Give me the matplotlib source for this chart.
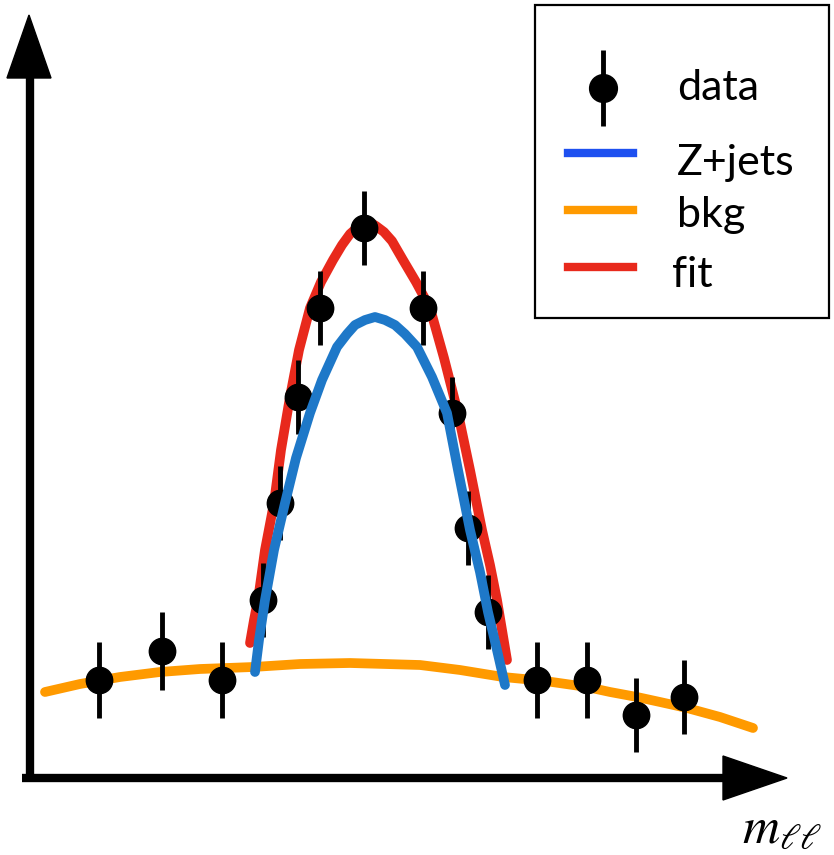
import matplotlib.pyplot as plt
from matplotlib.patches import Rectangle

# everything is in pixel units of the 834x855 sketch (y grows downwards)
data_x = [99, 162, 222, 263, 280, 298, 320, 364, 423, 452, 468, 488, 537, 587, 636, 684]
data_y = [680, 651, 680, 600, 503, 397, 308, 228, 308, 413, 528, 612, 680, 680, 715, 697]
data_err = [38, 39, 38, 37, 37, 37, 37, 37, 37, 36, 37, 37, 38, 38, 37, 37]

bkg_x = [45, 80, 120, 160, 200, 253, 300, 350, 420, 460, 503, 545, 587, 610, 637, 660, 687, 720, 753]
bkg_y = [692, 684, 677, 672, 669, 667, 664, 663, 665, 670, 677, 681, 687, 692, 697, 702, 708, 717, 728]

zjets_x = [255, 259, 265, 274, 285, 296, 310, 322, 337, 347, 355, 365, 375,
           385, 395, 405, 417, 432, 447, 458, 470, 480, 488, 497, 505]
zjets_y = [672, 640, 600, 550, 503, 458, 413, 380, 347, 334, 325, 320, 317,
           320, 325, 334, 347, 377, 413, 470, 530, 572, 612, 650, 685]

fit_x = [250, 254, 258, 265, 274, 281, 290, 299, 310, 321, 333, 342, 350, 358, 363, 367,
         371, 376, 384, 392, 403, 416, 430, 444, 458, 470, 482, 490, 497, 502, 507]
fit_y = [643, 620, 600, 550, 503, 450, 397, 350, 308, 282, 260, 245, 234, 227, 223, 222,
         223, 226, 232, 241, 260, 282, 308, 358, 413, 470, 530, 565, 600, 630, 660]

labels = ["data", "Z+jets", "bkg", "fit"]

RED = "#e8291c"
BLUE = "#1e78c8"
BLUE_LEG = "#1e50f0"
ORANGE = "#ff9a00"

fig = plt.figure(figsize=(8.34, 8.55), dpi=100)
ax = fig.add_axes([0, 0, 1, 1])
ax.set_xlim(0, 834)
ax.set_ylim(855, 0)
ax.axis("off")

# hand drawn axes with arrow heads
ax.plot([30, 30], [782, 70], color="k", lw=6, solid_capstyle="butt")
ax.fill([7, 51, 29], [78, 78, 15], color="k")
ax.plot([22, 728], [778, 778], color="k", lw=6, solid_capstyle="butt")
ax.fill([723, 723, 787], [756, 800, 778], color="k")

ax.plot(bkg_x, bkg_y, color=ORANGE, lw=7, solid_capstyle="round", zorder=1)
ax.plot(fit_x, fit_y, color=RED, lw=7, solid_capstyle="round", zorder=2)
ax.errorbar(data_x, data_y, yerr=data_err, fmt="o", ms=19, color="k",
            elinewidth=3.5, capsize=0, zorder=3)
ax.plot(zjets_x, zjets_y, color=BLUE, lw=7, solid_capstyle="round", zorder=4)

ax.text(742, 843, r"$m_{\ell\ell}$", fontsize=37, math_fontfamily="stix",
        ha="left", va="baseline")

# legend box, drawn by hand
ax.add_patch(Rectangle((535, 5), 294, 313, fill=False, ec="k", lw=1.6, zorder=5))
ax.errorbar([603], [88], yerr=[38], fmt="o", ms=20, color="k",
            elinewidth=3.5, capsize=0, zorder=6)
ax.plot([568, 633], [153, 153], color=BLUE_LEG, lw=6, zorder=6)
ax.plot([568, 633], [210, 210], color=ORANGE, lw=6, zorder=6)
ax.plot([568, 633], [267, 267], color=RED, lw=6, zorder=6)

text_x = [677, 677, 677, 672]
text_y = [100, 175, 227, 287]
for lab, tx, ty in zip(labels, text_x, text_y):
    ax.text(tx, ty, lab, fontsize=31, family=["Lato", "DejaVu Sans"],
            ha="left", va="baseline", zorder=6)

fig.savefig("out.png", dpi=100)
